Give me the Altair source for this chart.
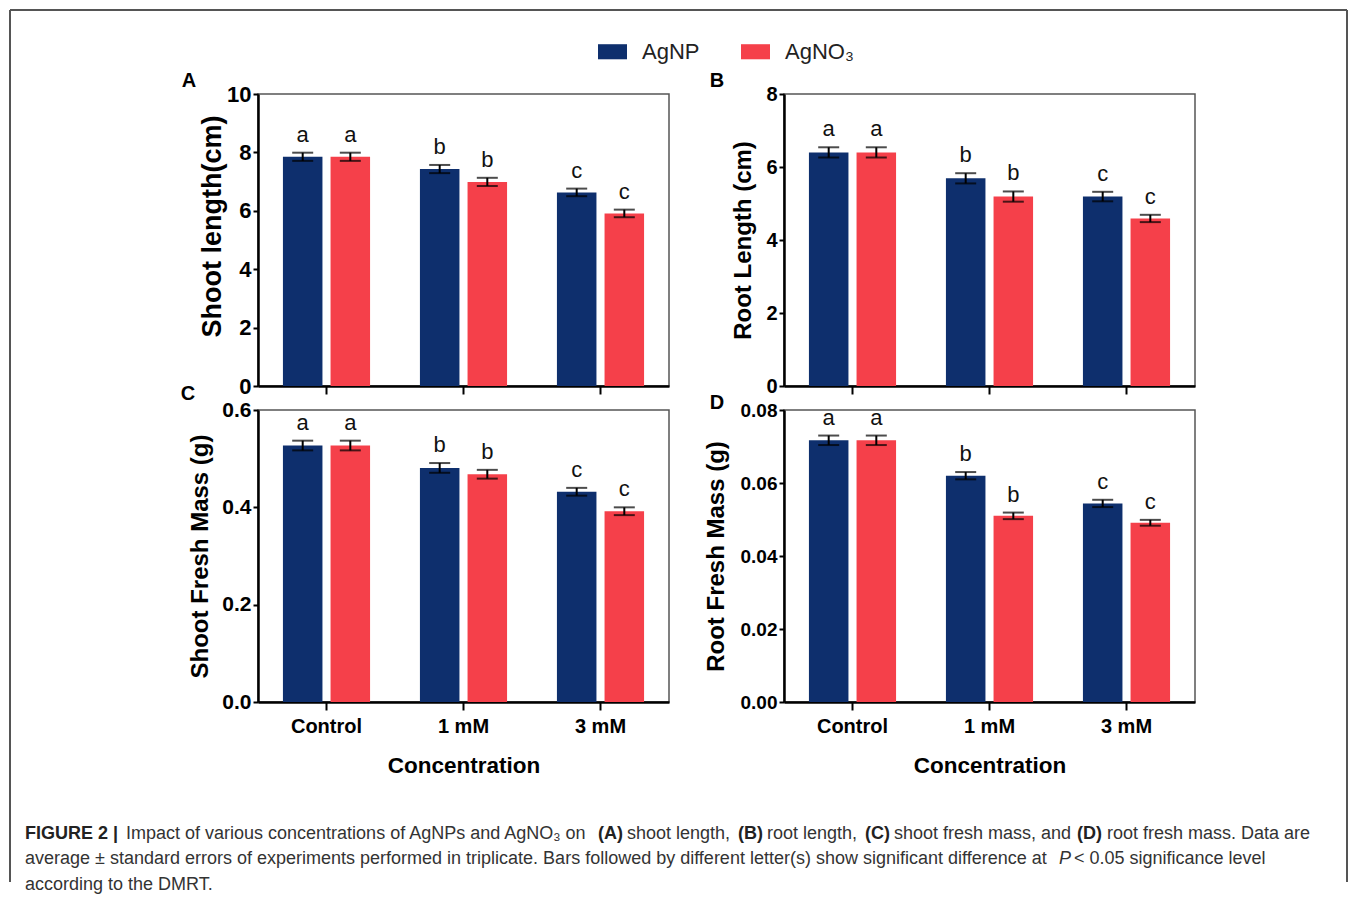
import altair as alt
import pandas as pd

# ---------------- data ----------------
conc = ["Control", "1 mM", "3 mM"]
treat = ["AgNP", "AgNO₃"]
letters = ["a", "b", "c"]

shoot_len_agnp = [7.85, 7.43, 6.63]
shoot_len_agno3 = [7.85, 6.99, 5.91]
shoot_len_err_agnp = [0.14, 0.14, 0.13]
shoot_len_err_agno3 = [0.14, 0.14, 0.13]

root_len_agnp = [6.40, 5.69, 5.19]
root_len_agno3 = [6.40, 5.19, 4.59]
root_len_err_agnp = [0.14, 0.14, 0.13]
root_len_err_agno3 = [0.14, 0.14, 0.10]

shoot_mass_agnp = [0.527, 0.481, 0.432]
shoot_mass_agno3 = [0.527, 0.468, 0.392]
shoot_mass_err_agnp = [0.010, 0.010, 0.008]
shoot_mass_err_agno3 = [0.010, 0.009, 0.008]

root_mass_agnp = [0.0717, 0.0620, 0.0544]
root_mass_agno3 = [0.0717, 0.0510, 0.0491]
root_mass_err_agnp = [0.0013, 0.0010, 0.0010]
root_mass_err_agno3 = [0.0013, 0.0009, 0.0008]

ticks_a = [0, 2, 4, 6, 8, 10]
ticks_b = [0, 2, 4, 6, 8]
ticks_c = [0.0, 0.2, 0.4, 0.6]
ticks_d = [0.0, 0.02, 0.04, 0.06, 0.08]

BLUE = "#0e2f6d"
RED = "#f5404a"
FONT = "Liberation Sans"
W, H = 411, 292


def table(a, b, ea, eb):
    rows = []
    for i, c in enumerate(conc):
        for t, v, e in ((treat[0], a[i], ea[i]), (treat[1], b[i], eb[i])):
            rows.append(dict(conc=c, treat=t, v=v, lo=v - e, hi=v + e, letter=letters[i]))
    return pd.DataFrame(rows)


dummy = pd.DataFrame({"d": [0]})


def panel(df, ytitle, ticks, fmt, bottom, title_size, title_pad, label_size, label, lx, ly,
          extra=(), title_y=None):
    xaxis = alt.Axis(
        title="Concentration" if bottom else None,
        labels=bottom,
        labelAngle=0,
        tickSize=8,
        labelPadding=6,
        titlePadding=18,
        labelFontSize=20,
        titleFontSize=22.5,
    )
    x = alt.X("conc:N", sort=conc,
              scale=alt.Scale(domain=conc, paddingInner=0.364, paddingOuter=0.182),
              axis=xaxis)
    xo = alt.XOffset("treat:N", sort=treat,
                     scale=alt.Scale(domain=treat, paddingInner=0.17, paddingOuter=0))
    ys = alt.Scale(domain=[ticks[0], ticks[-1]], nice=False, zero=True)
    axis_kw = dict(title=ytitle, values=ticks, format=fmt, titleFontSize=title_size,
                   titlePadding=title_pad, tickSize=5, labelPadding=2, labelFontSize=label_size)
    if title_y is not None:
        axis_kw["titleY"] = title_y
    yaxis = alt.Axis(**axis_kw)
    color = alt.Color("treat:N", sort=treat,
                      scale=alt.Scale(domain=treat, range=[BLUE, RED]),
                      legend=alt.Legend(title=None, orient="none", direction="horizontal",
                                        legendX=340, legendY=-57))
    base = alt.Chart(df)
    bars = base.mark_bar().encode(x=x, xOffset=xo, y=alt.Y("v:Q", scale=ys, axis=yaxis), color=color)
    err = base.mark_rule(color="black", strokeWidth=2).encode(
        x=x, xOffset=xo, y=alt.Y("lo:Q", scale=ys, axis=yaxis), y2="hi:Q")
    cap_hi = base.mark_tick(color="black", size=21, thickness=2).encode(
        x=x, xOffset=xo, y=alt.Y("hi:Q", scale=ys, axis=yaxis))
    cap_lo = base.mark_tick(color="black", size=21, thickness=2).encode(
        x=x, xOffset=xo, y=alt.Y("lo:Q", scale=ys, axis=yaxis))
    txt = base.mark_text(font=FONT, fontSize=22, baseline="bottom", dy=-6, color="#111").encode(
        x=x, xOffset=xo, y=alt.Y("hi:Q", scale=ys, axis=yaxis), text="letter:N")
    plab = alt.Chart(dummy).mark_text(text=label, font=FONT, fontWeight="bold", fontSize=20,
                                      color="black", baseline="middle", align="center").encode(
        x=alt.value(lx), y=alt.value(ly))
    return alt.layer(bars, err, cap_hi, cap_lo, txt, plab, *extra).properties(width=W, height=H)


# frame lines (drawn in panel A coordinates)
frame_col = "#555555"
frame = [
    alt.Chart(dummy).mark_rule(color=frame_col, strokeWidth=2).encode(
        x=alt.value(-248), x2=alt.value(1089), y=alt.value(-84)),
    alt.Chart(dummy).mark_rule(color=frame_col, strokeWidth=2).encode(
        x=alt.value(-248), y=alt.value(-84), y2=alt.value(788)),
    alt.Chart(dummy).mark_rule(color=frame_col, strokeWidth=2).encode(
        x=alt.value(1089), y=alt.value(-84), y2=alt.value(788)),
]

# caption (drawn in panel C coordinates; origin at page 257, 409)
OX, OY = 257, 409
caption = [
    ("FIGURE 2 |", 24, 833, "bold", "normal"),
    ("Impact of various concentrations of AgNPs and AgNO₃ on", 125, 833, "normal", "normal"),
    ("(A)", 597, 833, "bold", "normal"),
    ("shoot length,", 626, 833, "normal", "normal"),
    ("(B)", 737, 833, "bold", "normal"),
    ("root length,", 766, 833, "normal", "normal"),
    ("(C)", 864, 833, "bold", "normal"),
    ("shoot fresh mass, and", 893, 833, "normal", "normal"),
    ("(D)", 1076, 833, "bold", "normal"),
    ("root fresh mass. Data are", 1106, 833, "normal", "normal"),
    ("average ± standard errors of experiments performed in triplicate. Bars followed by "
     "different letter(s) show significant difference at", 24, 858, "normal", "normal"),
    ("P", 1058, 858, "normal", "italic"),
    ("< 0.05 significance level", 1073, 858, "normal", "normal"),
    ("according to the DMRT.", 24, 884, "normal", "normal"),
]
cap_layers = []
for text, px, py, wt, st in caption:
    cap_layers.append(
        alt.Chart(dummy).mark_text(text=text, font=FONT, fontSize=18, fontWeight=wt, fontStyle=st,
                                   color="#222222" if wt == "bold" else "#333333",
                                   align="left", baseline="middle").encode(
            x=alt.value(px - OX), y=alt.value(py - OY)))

pA = panel(table(shoot_len_agnp, shoot_len_agno3, shoot_len_err_agnp, shoot_len_err_agno3),
           "Shoot length(cm)", ticks_a, "d", False, 27, 0, 22, "A", -69, -13, frame, title_y=132)
pB = panel(table(root_len_agnp, root_len_agno3, root_len_err_agnp, root_len_err_agno3),
           "Root Length (cm)", ticks_b, "d", False, 24, 10, 20, "B", -67, -13)
pC = panel(table(shoot_mass_agnp, shoot_mass_agno3, shoot_mass_err_agnp, shoot_mass_err_agno3),
           "Shoot Fresh Mass (g)", ticks_c, ".1f", True, 24, 9, 21, "C", -70, -16, cap_layers)
pD = panel(table(root_mass_agnp, root_mass_agno3, root_mass_err_agnp, root_mass_err_agno3),
           "Root Fresh Mass (g)", ticks_d, ".2f", True, 24, 12, 19, "D", -67, -7)

chart = alt.concat(pA, pB, pC, pD, columns=2, spacing={"row": 24, "column": 115},
                   bounds="flush").properties(
    padding={"left": 0, "top": 0, "right": 0, "bottom": 0},
    background="white",
).configure_view(
    stroke="#555555", strokeWidth=1.5
).configure_axis(
    domainColor="black", domainWidth=2.5, tickColor="black", tickWidth=2,
    labelFont=FONT, labelFontWeight="bold", labelColor="black",
    titleFont=FONT, titleFontWeight="bold", titleColor="black", grid=False,
).configure_legend(
    labelFont=FONT, labelFontSize=22, labelColor="#222222", labelOffset=15,
    columnPadding=41, padding=0,
    symbolType="M-1,-0.52L1,-0.52L1,0.52L-1,0.52Z", symbolSize=841, symbolStrokeWidth=0,
)

chart.save("out.html", embed_options={"renderer": "svg", "actions": False})
